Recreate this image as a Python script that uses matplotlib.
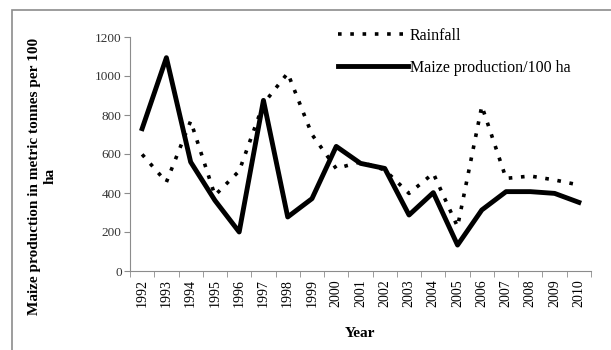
import matplotlib
matplotlib.use("Agg")
import matplotlib.pyplot as plt
from matplotlib.patches import Rectangle
import numpy as np

# Values
years = [str(y) for y in range(1992, 2011)]
rainfall = [598, 456, 769, 388, 513, 858, 1015, 700, 525, 560, 518, 398, 501, 227, 846, 475, 487, 467, 441]
maize = [730, 1094, 559, 362, 200, 875, 277, 371, 639, 552, 526, 287, 402, 133, 313, 407, 407, 398, 352]
y_ticks = [0, 200, 400, 600, 800, 1000, 1200]

plt.rcParams['font.family'] = ['Liberation Serif', 'DejaVu Serif']

fig = plt.figure(figsize=(6.11, 3.5), dpi=100)
ax = fig.add_axes([130 / 611, 1 - 271 / 350, 461 / 611, 234 / 350])

# outer chart border
fig.patches.append(Rectangle((12 / 611, -0.05), 1.2, 1 - 10 / 350 + 0.05,
                             transform=fig.transFigure, fill=False,
                             edgecolor='#8c8c8c', linewidth=1.2))

x = np.arange(len(years))
ax.plot(x, rainfall, color='black', linewidth=2.6, linestyle=(0, (1, 2.4)),
        dash_capstyle='butt', label='Rainfall')
ax.plot(x, maize, color='black', linewidth=3.5, label='Maize production/100 ha')

ax.set_xlim(-0.5, len(years) - 0.5)
ax.set_ylim(0, 1200)
ax.set_yticks(y_ticks)
ax.set_yticklabels([str(v) for v in y_ticks], fontsize=9.5, color='#333333')
ax.set_xticks(x)
ax.set_xticklabels(years, rotation=90, fontsize=10)
ax.set_xticks(np.arange(-0.5, len(years)), minor=True)
ax.tick_params(axis='x', which='major', length=0, pad=6)
ax.tick_params(axis='x', which='minor', length=4, color='#8c8c8c', direction='out')
ax.tick_params(axis='y', length=4, color='#8c8c8c', direction='out', pad=2)

for side in ['top', 'right']:
    ax.spines[side].set_visible(False)
for side in ['left', 'bottom']:
    ax.spines[side].set_color('#8c8c8c')

ax.set_ylabel('Maize production in metric tonnes per 100\nha', fontsize=11,
              fontweight='bold', linespacing=1.2)
ax.yaxis.set_label_coords(-0.16, 0.406)
ax.set_xlabel('Year', fontsize=11, fontweight='bold', labelpad=14)

leg = ax.legend(loc='upper left', bbox_to_anchor=(0.42, 1.1), frameon=False,
                fontsize=11.5, handlelength=4.4, handletextpad=0.1, labelspacing=1.0)

fig.savefig('out.png', dpi=100)
